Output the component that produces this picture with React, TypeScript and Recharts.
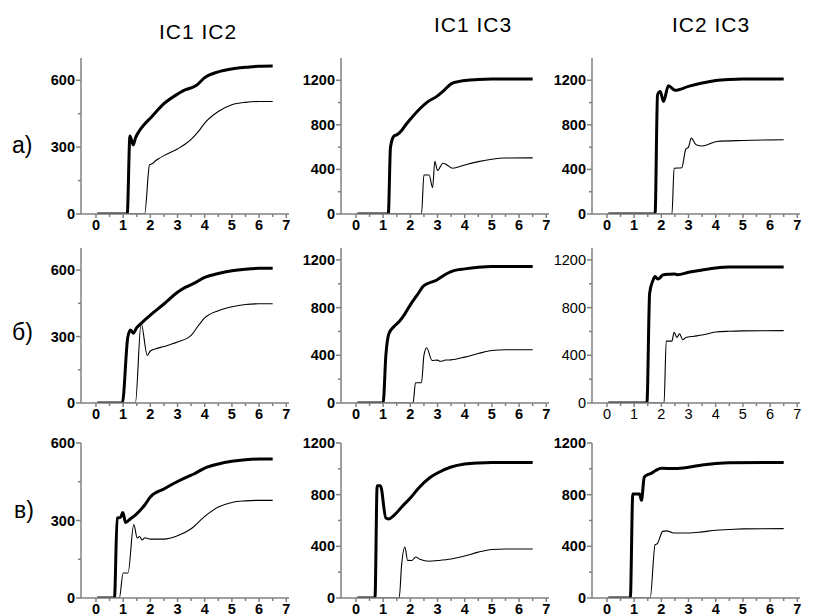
import { LineChart, Line, XAxis, YAxis } from 'recharts';

type Pt = [number, number];

const columnTitles = ['IC1 IC2', 'IC1 IC3', 'IC2 IC3'];
const rowLabels = ['а)', 'б)', 'в)'];

const xTicks = [0, 0.5, 1, 1.5, 2, 2.5, 3, 3.5, 4, 4.5, 5, 5.5, 6, 6.5, 7];
const yTicksSmall = [0, 150, 300, 450, 600];
const yTicksLarge = [0, 200, 400, 600, 800, 1000, 1200];

// y axis maxima per row: [col1, col2, col3]
const yMaxRow1 = [700, 1400, 1400];
const yMaxRow2 = [700, 1300, 1300];
const yMaxRow3 = [600, 1200, 1200];

// row а)
const a1Thick: Pt[] = [[0.05, 0], [1.15, 0], [1.25, 350], [1.37, 310], [1.45, 340], [1.58, 370], [1.8, 405], [2, 430], [2.5, 495], [3, 538], [3.3, 558], [3.5, 566], [3.7, 578], [4, 612], [4.5, 638], [5, 651], [5.5, 658], [6, 663], [6.5, 664]];
const a1Thin: Pt[] = [[0.05, 0], [1.79, 0], [1.97, 220], [2.1, 228], [2.2, 240], [2.3, 248], [2.5, 262], [3, 292], [3.3, 315], [3.5, 335], [3.8, 375], [4, 408], [4.5, 460], [5, 490], [5.5, 501], [6, 505], [6.5, 505]];
const a2Thick: Pt[] = [[0.05, 0], [1.19, 0], [1.27, 600], [1.4, 700], [1.5, 710], [1.68, 750], [1.8, 790], [2, 850], [2.35, 945], [2.6, 1000], [3, 1060], [3.2, 1100], [3.5, 1168], [3.8, 1190], [4.2, 1202], [4.5, 1208], [5, 1211], [6.5, 1212]];
const a2Thin: Pt[] = [[0.05, 0], [2.41, 0], [2.5, 350], [2.69, 350], [2.82, 237], [2.9, 474], [3.0, 390], [3.2, 456], [3.35, 440], [3.55, 411], [4, 440], [4.5, 470], [5, 492], [5.5, 502], [6.5, 504]];
const a3Thick: Pt[] = [[0.05, 0], [1.77, 0], [1.86, 1070], [1.96, 1100], [2.08, 1010], [2.26, 1150], [2.51, 1110], [3, 1145], [3.5, 1175], [4, 1198], [4.5, 1208], [5, 1212], [6.5, 1212]];
const a3Thin: Pt[] = [[0.05, 0], [2.39, 0], [2.47, 411], [2.75, 415], [2.9, 582], [3.0, 600], [3.1, 681], [3.28, 621], [3.5, 610], [4.04, 651], [5, 660], [6.5, 666]];

// row б)
const b1Thick: Pt[] = [[0.05, 0], [0.97, 0], [1.17, 297], [1.27, 330], [1.37, 315], [1.5, 340], [1.7, 364], [2, 397], [2.5, 447], [3, 500], [3.3, 523], [3.6, 540], [4, 567], [4.5, 585], [5, 597], [5.5, 604], [6, 608], [6.5, 609]];
const b1Thin: Pt[] = [[0.05, 0], [1.45, 0], [1.66, 360], [1.89, 215], [2, 235], [2.2, 245], [2.5, 255], [3, 275], [3.5, 305], [3.8, 355], [4, 384], [4.5, 417], [5, 435], [5.5, 445], [6, 448], [6.5, 448]];
const b2Thick: Pt[] = [[0.05, 0], [1.0, 0], [1.1, 400], [1.21, 580], [1.4, 642], [1.6, 685], [1.8, 748], [2, 823], [2.25, 905], [2.5, 985], [2.96, 1030], [3.3, 1080], [3.6, 1110], [4, 1125], [4.5, 1138], [5, 1144], [6.5, 1144]];
const b2Thin: Pt[] = [[0.05, 0], [2.1, 0], [2.19, 170], [2.41, 170], [2.5, 399], [2.6, 463], [2.8, 357], [3.0, 360], [3.1, 350], [3.3, 360], [3.5, 362], [4, 385], [4.5, 415], [5, 440], [5.5, 446], [6.5, 446]];
const b3Thick: Pt[] = [[0.05, 0], [1.47, 0], [1.57, 921], [1.69, 1027], [1.77, 1060], [1.87, 1040], [1.95, 1050], [2.05, 1074], [2.3, 1080], [2.5, 1082], [2.6, 1075], [3, 1096], [3.5, 1115], [4, 1132], [4.5, 1140], [6.5, 1140]];
const b3Thin: Pt[] = [[0.05, 0], [2.1, 0], [2.18, 519], [2.39, 519], [2.47, 594], [2.57, 550], [2.67, 580], [2.79, 530], [2.9, 550], [3.2, 560], [3.5, 570], [4, 595], [4.5, 602], [5, 605], [6.5, 607]];

// row в)
const c1Thick: Pt[] = [[0.05, 0], [0.68, 0], [0.78, 310], [0.9, 312], [0.99, 331], [1.09, 292], [1.25, 305], [1.46, 322], [1.8, 361], [2, 391], [2.5, 422], [3, 451], [3.4, 471], [3.6, 480], [4, 503], [4.5, 519], [5, 529], [5.5, 535], [6, 538], [6.5, 538]];
const c1Thin: Pt[] = [[0.05, 0], [0.86, 0], [1.0, 97], [1.18, 97], [1.39, 284], [1.52, 232], [1.6, 238], [1.7, 225], [1.8, 233], [2, 228], [2.5, 228], [3, 241], [3.5, 268], [4, 316], [4.5, 352], [5, 370], [5.5, 376], [6, 378], [6.5, 378]];
const c2Thick: Pt[] = [[0.05, 0], [0.7, 0], [0.78, 869], [0.9, 869], [1.1, 619], [1.2, 612], [1.4, 640], [1.7, 709], [2, 774], [2.3, 850], [2.7, 929], [3, 968], [3.5, 1014], [4, 1037], [4.5, 1046], [5, 1049], [6.5, 1050]];
const c2Thin: Pt[] = [[0.05, 0], [1.59, 0], [1.68, 258], [1.8, 395], [1.9, 291], [2.05, 290], [2.2, 318], [2.35, 300], [2.7, 285], [3, 290], [3.5, 302], [4, 325], [4.5, 355], [5, 375], [5.5, 379], [6.5, 379]];
const c3Thick: Pt[] = [[0.05, 0], [0.86, 0], [0.95, 805], [1.2, 805], [1.27, 756], [1.37, 934], [1.5, 955], [1.6, 962], [1.8, 988], [2, 1004], [2.5, 1002], [3, 1012], [3.5, 1030], [4, 1042], [4.5, 1048], [6.5, 1050]];
const c3Thin: Pt[] = [[0.05, 0], [1.59, 0], [1.77, 413], [1.85, 420], [2.05, 516], [2.2, 520], [2.35, 510], [2.5, 503], [3, 503], [3.5, 512], [4, 525], [4.5, 530], [5, 535], [6.5, 537]];

const AXIS = '#808080';
const FONT = 'Arial, "Liberation Sans", sans-serif';

const colLeft = [81, 341, 592];
const rowTop = [58, 248, 443];
const rowPlotH = [156, 155, 155];
const PLOT_W = 208;

const toRows = (pts: Pt[]) => pts.map(([x, y]) => ({ x, y }));

function Panel({ thick, thin, yMax, left, top, plotH, bold }: {
  thick: Pt[]; thin: Pt[]; yMax: number; left: number; top: number; plotH: number; bold: boolean;
}) {
  const yTicks = (yMax <= 700 ? yTicksSmall : yTicksLarge).filter(t => t <= yMax);
  const yMajorStep = yMax <= 700 ? 300 : 400;
  const fw = bold ? 700 : 400;

  const xTick = (p: any) => {
    const v = p.payload.value;
    const major = Number.isInteger(v);
    return (
      <g>
        <line x1={p.x} y1={p.y} x2={p.x} y2={p.y + (major ? 4 : 3)} stroke={AXIS} strokeWidth={1.5} />
        {major && (
          <text x={p.x} y={p.y + 16} textAnchor="middle" fontSize={14.5} fontWeight={fw} fontFamily={FONT} fill="#000">{v}</text>
        )}
      </g>
    );
  };

  const yTick = (p: any) => {
    const v = p.payload.value;
    const major = v % yMajorStep === 0;
    return (
      <g>
        <line x1={p.x} y1={p.y} x2={p.x - (major ? 5 : 3)} y2={p.y} stroke={AXIS} strokeWidth={1.5} />
        {major && (
          <text x={p.x - 6} y={p.y + 5} textAnchor="end" fontSize={14.5} fontWeight={fw} fontFamily={FONT} fill="#000">{v}</text>
        )}
      </g>
    );
  };

  return (
    <div style={{ position: 'absolute', left: left - 60, top: top - 10 }}>
      <LineChart width={60 + PLOT_W + 10} height={10 + plotH + 30} margin={{ top: 10, right: 10, bottom: 0, left: 0 }}>
        <XAxis
          dataKey="x"
          type="number"
          domain={[-0.55, 7.1]}
          allowDataOverflow
          ticks={xTicks}
          interval={0}
          tickSize={0}
          tickMargin={0}
          tickLine={false}
          height={30}
          axisLine={{ stroke: AXIS, strokeWidth: 1.5 }}
          tick={xTick}
        />
        <YAxis
          dataKey="y"
          type="number"
          domain={[0, yMax]}
          allowDataOverflow
          ticks={yTicks}
          interval={0}
          tickSize={0}
          tickMargin={0}
          tickLine={false}
          width={60}
          axisLine={{ stroke: AXIS, strokeWidth: 1.5 }}
          tick={yTick}
        />
        <Line data={toRows(thin)} dataKey="y" type="monotone" stroke="#000" strokeWidth={1.1} dot={false} isAnimationActive={false} />
        <Line data={toRows(thick)} dataKey="y" type="monotone" stroke="#000" strokeWidth={3} strokeLinejoin="round" dot={false} isAnimationActive={false} />
      </LineChart>
    </div>
  );
}

export default function App() {
  const panels = [
    [a1Thick, a1Thin, a2Thick, a2Thin, a3Thick, a3Thin],
    [b1Thick, b1Thin, b2Thick, b2Thin, b3Thick, b3Thin],
    [c1Thick, c1Thin, c2Thick, c2Thin, c3Thick, c3Thin],
  ];
  const yMaxes = [yMaxRow1, yMaxRow2, yMaxRow3];

  return (
    <div style={{ position: 'relative', width: 814, height: 616, background: '#fff', overflow: 'hidden' }}>
      <style>{`body { margin: 0; }`}</style>
      {panels.map((row, r) =>
        [0, 1, 2].map(c => (
          <Panel
            key={`${r}-${c}`}
            thick={row[c * 2]}
            thin={row[c * 2 + 1]}
            yMax={yMaxes[r][c]}
            left={colLeft[c]}
            top={rowTop[r]}
            plotH={rowPlotH[r]}
            bold={!(r === 1 && c === 2)}
          />
        ))
      )}
      <svg width={814} height={616} style={{ position: 'absolute', left: 0, top: 0, pointerEvents: 'none' }}>
        <text x={198} y={39} textAnchor="middle" fontSize={21} letterSpacing={1} fontFamily={FONT}>{columnTitles[0]}</text>
        <text x={473} y={32} textAnchor="middle" fontSize={21} letterSpacing={1} fontFamily={FONT}>{columnTitles[1]}</text>
        <text x={711} y={32} textAnchor="middle" fontSize={21} letterSpacing={1} fontFamily={FONT}>{columnTitles[2]}</text>
        <text x={12} y={153} fontSize={23} fontFamily={FONT}>{rowLabels[0]}</text>
        <text x={12} y={340} fontSize={23} fontFamily={FONT}>{rowLabels[1]}</text>
        <text x={14} y={518} fontSize={23} fontFamily={FONT}>{rowLabels[2]}</text>
      </svg>
    </div>
  );
}
